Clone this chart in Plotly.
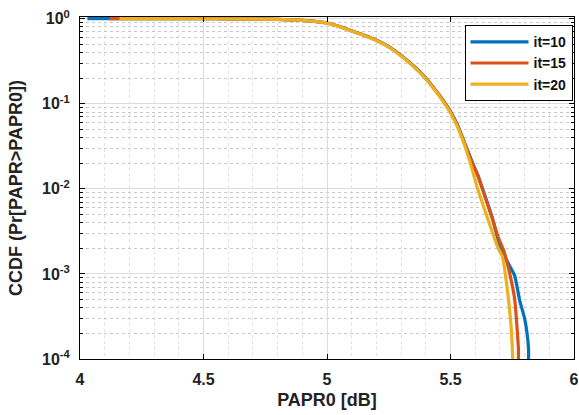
import plotly.graph_objects as go

# ---- data ----
x_it10 = [4.03, 4.30, 4.50, 4.60, 4.70, 4.80, 4.90, 4.95, 5.00, 5.05, 5.10, 5.15, 5.20, 5.25, 5.30, 5.35,
          5.40, 5.43, 5.47, 5.50, 5.53, 5.555, 5.59, 5.61, 5.63, 5.67, 5.70, 5.73, 5.76, 5.78, 5.80, 5.81,
          5.816, 5.816]
y_it10 = [1.0, 1.0, 0.999, 0.997, 0.99, 0.982, 0.955, 0.93, 0.89, 0.81, 0.72, 0.64, 0.56, 0.47, 0.37, 0.28,
          0.20, 0.156, 0.11, 0.081, 0.055, 0.036, 0.020, 0.0147, 0.0100, 0.0045, 0.0021, 0.0014, 0.00095,
          0.00049, 0.00030, 0.00020, 0.00013, 0.0001]

x_it15 = [4.12, 4.30, 4.50, 4.60, 4.70, 4.80, 4.90, 4.95, 5.00, 5.05, 5.10, 5.15, 5.20, 5.25, 5.30, 5.35,
          5.40, 5.43, 5.47, 5.50, 5.53, 5.555, 5.59, 5.61, 5.63, 5.67, 5.695, 5.715, 5.74, 5.76, 5.77,
          5.775, 5.775]
y_it15 = [1.0, 1.0, 0.999, 0.997, 0.99, 0.982, 0.955, 0.929, 0.889, 0.808, 0.718, 0.638, 0.558, 0.468,
          0.368, 0.278, 0.199, 0.155, 0.109, 0.080, 0.054, 0.0355, 0.0195, 0.0145, 0.0098, 0.0044, 0.0026,
          0.0019, 0.0010, 0.00050, 0.00022, 0.00013, 0.0001]

x_it20 = [4.16, 4.30, 4.50, 4.60, 4.70, 4.80, 4.90, 4.95, 5.00, 5.05, 5.10, 5.15, 5.20, 5.25, 5.30, 5.35,
          5.40, 5.43, 5.47, 5.50, 5.53, 5.555, 5.585, 5.61, 5.65, 5.69, 5.71, 5.72, 5.735, 5.745, 5.75, 5.752]
y_it20 = [1.0, 1.0, 0.999, 0.997, 0.99, 0.982, 0.955, 0.928, 0.888, 0.806, 0.715, 0.635, 0.555, 0.465,
          0.365, 0.275, 0.197, 0.153, 0.107, 0.078, 0.052, 0.034, 0.018, 0.0100, 0.0045, 0.0021, 0.0016,
          0.0011, 0.00050, 0.00025, 0.00014, 0.0001]

series_names = ["it=10", "it=15", "it=20"]
series_colors = ["#0072BD", "#D95319", "#EDB120"]

x_tickvals = [4, 4.5, 5, 5.5, 6]
x_ticktext = ["4", "4.5", "5", "5.5", "6"]
y_tickvals = [1e-4, 1e-3, 1e-2, 1e-1, 1]
y_ticktext = ["10<sup>-4</sup>", "10<sup>-3</sup>", "10<sup>-2</sup>", "10<sup>-1</sup>", "10<sup>0</sup>"]

FONT = "Liberation Sans"

fig = go.Figure()
for xs, ys, name, col in zip([x_it10, x_it15, x_it20], [y_it10, y_it15, y_it20],
                             series_names, series_colors):
    fig.add_trace(go.Scatter(x=xs, y=ys, mode="lines", name=name, line_shape="spline",
                             line=dict(color=col, width=3.2, smoothing=0.4)))

axis_common = dict(
    showline=True, linecolor="black", linewidth=1, mirror="ticks",
    ticks="inside", ticklen=5, tickcolor="black",
    showgrid=True, gridcolor="#dcdcdc", gridwidth=1,
    zeroline=False, ticklabelstandoff=6, automargin=False,
    tickfont=dict(family=FONT, size=16, color="#222", weight="bold"),
)

fig.update_layout(
    width=579, height=415,
    margin=dict(l=80, r=5, t=17, b=56),
    paper_bgcolor="white", plot_bgcolor="white",
    font=dict(family=FONT, color="#222"),
    showlegend=True,
    legend=dict(
        x=0.997, y=0.976, xanchor="right", yanchor="top",
        bgcolor="white", bordercolor="black", borderwidth=1,
        font=dict(family=FONT, size=14, color="#111", weight="bold"),
        tracegroupgap=0, itemwidth=58,
    ),
    xaxis=dict(
        range=[4, 6], tickvals=x_tickvals, ticktext=x_ticktext,
        title=dict(text="PAPR0 [dB]", standoff=6,
                   font=dict(family=FONT, size=18, color="#222", weight="bold")),
        minor=dict(dtick=0.1, showgrid=True, gridcolor="#e2e2e2", griddash="dot",
                   ticks="", tickcolor="black"),
        **axis_common,
    ),
    yaxis=dict(
        type="log", range=[-4, 0.02], tickvals=y_tickvals, ticktext=y_ticktext,
        title=dict(text="CCDF (Pr[PAPR>PAPR0])", standoff=14,
                   font=dict(family=FONT, size=18, color="#222", weight="bold")),
        minor=dict(dtick="D1", showgrid=True, gridcolor="#c8c8c8", griddash="dot",
                   ticks="inside", ticklen=3, tickcolor="black"),
        **axis_common,
    ),
)

fig.write_html("out.html", config={"displayModeBar": False},
               post_script="document.body.style.margin='0';document.body.style.overflow='hidden';")
